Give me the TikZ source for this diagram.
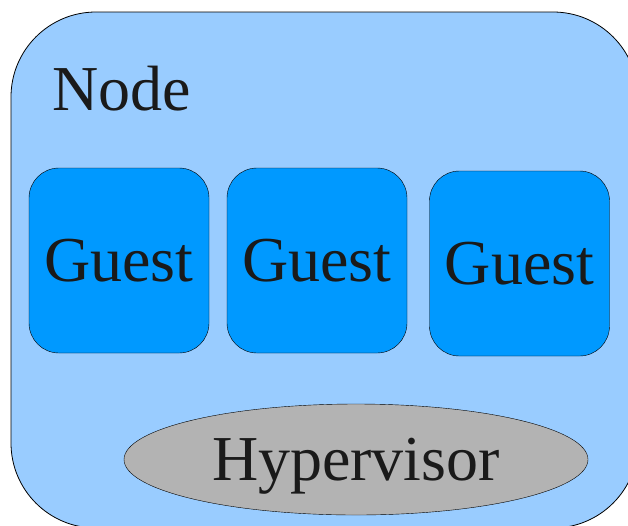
\documentclass[tikz,border=0pt]{standalone}
\usepackage{fontspec}
\setmainfont{Liberation Serif}
\usetikzlibrary{shapes.geometric}

\definecolor{hostblue}{HTML}{99CCFF}
\definecolor{guestblue}{HTML}{0099FF}
\definecolor{hvgray}{HTML}{B3B3B3}
\definecolor{textgray}{HTML}{1A1A1A}

\begin{document}
\begin{tikzpicture}[x=1pt,y=-1pt,
  guest/.style={draw,fill=guestblue,rounded corners=30pt,
    minimum width=180pt,minimum height=185pt,inner sep=0pt,
    text=textgray,font=\fontsize{64}{70}\selectfont}]
         \useasboundingbox (0,0) rectangle (628,525);
         \draw [fill=hostblue,rounded corners=85pt,line width=.8pt]
         (11,12) rectangle (638,528);
         \node[anchor=base west,text=textgray,font=\fontsize{64}{70}\selectfont,inner sep=0pt]
         (host) at (52,110) {Node};
         \node[guest] (guest1) at (119,260.5) {Guest};
         \node[guest] (guest2) at (317,260.5) {Guest};
         \node[guest] (guest3) at (519.5,263.5) {Guest};
         \node[ellipse,draw,fill=hvgray,minimum width=464pt,minimum height=111pt,
         inner sep=0pt,text height=41pt,text depth=0pt,text=textgray,
         font=\fontsize{64}{70}\selectfont]
         (hypervisor) at (356,459.5) {Hypervisor};
       \end{tikzpicture}
\end{document}
